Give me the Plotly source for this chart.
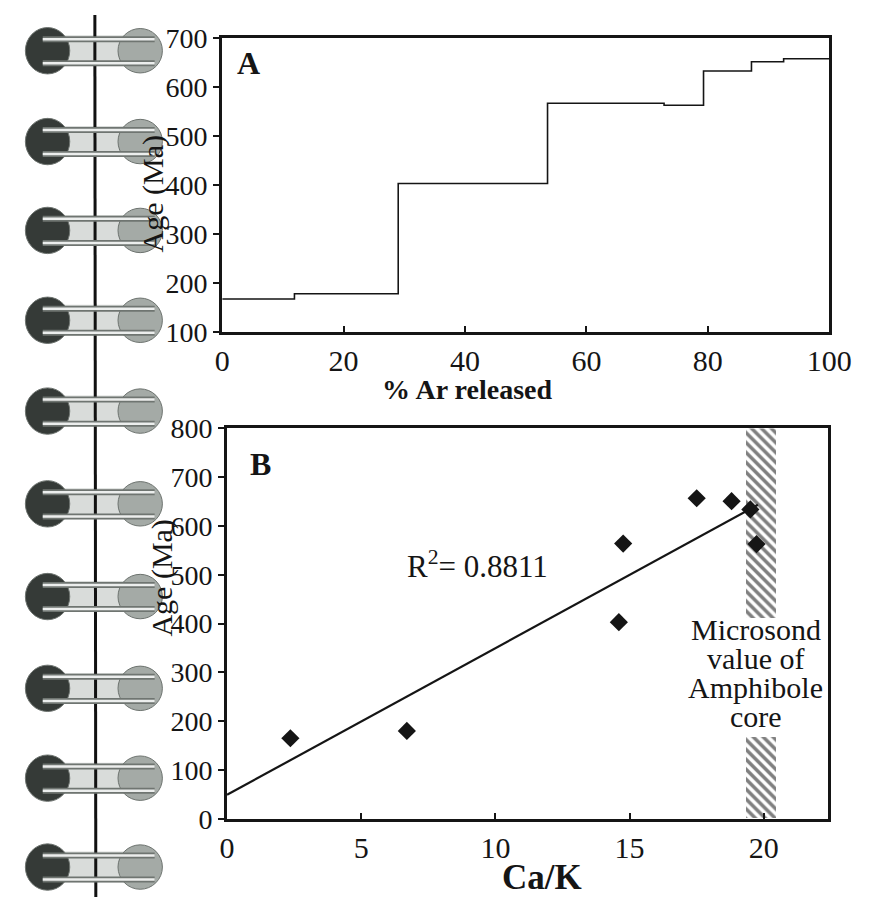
import numpy as np
import plotly.graph_objects as go

# ---------------- data ----------------
# Panel A: step-heating spectrum (cumulative % 39Ar released at step boundaries, apparent age per step)
ar_cum = [0, 11.9, 29.0, 53.6, 72.8, 79.3, 87.2, 92.5, 100]
step_age = [167, 178, 403, 567, 563, 633, 652, 658]

# Panel B: Ca/K versus age for the same steps
ca_k = [2.36, 6.7, 14.6, 14.76, 17.5, 18.8, 19.5, 19.73]
age_b = [165, 180, 403, 564, 657, 651, 634, 563]
r2_label = "R<sup>2</sup>= 0.8811"

# Microprobe Ca/K value of the amphibole core (hatched band)
core_ca_k = 19.9
core_width = 1.1
core_band_base = [0, 411]
core_band_top = [167, 800]
core_text = ["Microsond", "value of", "Amphibole", "core"]

x_ticks_a = [0, 20, 40, 60, 80, 100]
y_ticks_a = [100, 200, 300, 400, 500, 600, 700]
x_ticks_b = [0, 5, 10, 15, 20]
y_ticks_b = [0, 100, 200, 300, 400, 500, 600, 700, 800]

# notebook ring rows (page decoration), y centres in px
ring_rows = [37, 131, 223, 316, 410, 506, 602, 697, 790, 882]

W, H = 884, 913
SERIF = "Liberation Serif"
INK = "#151515"


def X(p):
    return p / W


def Y(p):
    return 1 - p / H


fig = go.Figure()

# Panel A step line
fig.add_trace(go.Scatter(
    x=ar_cum, y=step_age + [step_age[-1]], mode="lines", line_shape="hv",
    line=dict(color=INK, width=1.6), xaxis="x", yaxis="y", showlegend=False,
    hoverinfo="skip"))

# Panel B hatched band
fig.add_trace(go.Bar(
    x=[core_ca_k] * len(core_band_base),
    y=[t - b for t, b in zip(core_band_top, core_band_base)],
    base=core_band_base, width=core_width,
    marker=dict(color="white", line=dict(width=0),
                pattern=dict(shape="\\", fgcolor="#000000", bgcolor="white",
                             size=7, solidity=0.5)),
    xaxis="x2", yaxis="y2", showlegend=False, hoverinfo="skip"))

# regression line from the data
slope, intercept = np.polyfit(ca_k, age_b, 1)
xr = np.array([0, max(ca_k) + 0.05])
fig.add_trace(go.Scatter(
    x=xr, y=slope * xr + intercept, mode="lines",
    line=dict(color=INK, width=2.2), xaxis="x2", yaxis="y2",
    showlegend=False, hoverinfo="skip"))

# Panel B points
fig.add_trace(go.Scatter(
    x=ca_k, y=age_b, mode="markers",
    marker=dict(symbol="diamond", size=14, color=INK),
    xaxis="x2", yaxis="y2", showlegend=False))

axis_common = dict(showline=True, linewidth=3, linecolor=INK, mirror=True,
                   showgrid=False, zeroline=False, ticklen=6, tickwidth=1.5,
                   tickcolor=INK, color=INK)

fig.update_layout(
    width=W, height=H, margin=dict(l=0, r=0, t=0, b=0),
    paper_bgcolor="white", plot_bgcolor="white",
    font=dict(family=SERIF, color=INK),
    barmode="overlay", bargap=0,
    xaxis=dict(domain=[X(222), X(851)], range=[0, 100], tickvals=x_ticks_a,
               ticks="inside", anchor="y", tickfont=dict(size=30, family=SERIF),
               **axis_common),
    yaxis=dict(domain=[Y(328), Y(24)], range=[100, 700], tickvals=y_ticks_a,
               ticks="outside", anchor="x", tickfont=dict(size=28, family=SERIF),
               **axis_common),
    xaxis2=dict(domain=[X(227), X(850)], range=[0, 22.4], tickvals=x_ticks_b,
                ticks="inside", anchor="y2", tickfont=dict(size=30, family=SERIF),
                **axis_common),
    yaxis2=dict(domain=[Y(832), Y(428)], range=[0, 800], tickvals=y_ticks_b,
                ticks="outside", anchor="x2", tickfont=dict(size=28, family=SERIF),
                **axis_common),
)


def note(text, x, y, size, xref="paper", yref="paper", angle=0):
    return dict(text=text, x=x, y=y, xref=xref, yref=yref, showarrow=False,
                xanchor="center", yanchor="middle", textangle=angle,
                font=dict(size=size, family=SERIF, color=INK))


ann = [
    note("<b>A</b>", X(249), Y(50), 32),
    note("<b>B</b>", X(262), Y(465), 32),
    note("<b>% Ar released</b>", X(476), Y(388), 28),
    note("<b>Ca/K</b>", X(553), Y(893), 35),
    note("Age (Ma)", X(150), Y(185), 30, angle=-90),
    note("Age (Ma)", X(160), Y(583), 30, angle=-90),
    note(r2_label, 9.35, 521, 31, xref="x2", yref="y2"),
]
for i, line in enumerate(core_text):
    ann.append(note(line, X(775), Y(636 + 30 * i), 30))

shapes = []
for cy in ring_rows:
    shapes.append(dict(type="rect", xref="paper", yref="paper",
                       x0=X(42), x1=X(140), y0=Y(cy - 16), y1=Y(cy + 16),
                       fillcolor="#d9dcda", line=dict(width=0)))
    shapes.append(dict(type="circle", xref="paper", yref="paper",
                       x0=X(18), x1=X(64), y0=Y(cy - 24), y1=Y(cy + 24),
                       fillcolor="#353a37", line=dict(color="#6d736f", width=1)))
    shapes.append(dict(type="circle", xref="paper", yref="paper",
                       x0=X(114), x1=X(160), y0=Y(cy - 23), y1=Y(cy + 23),
                       fillcolor="#a4aaa6", line=dict(color="#6d736f", width=1)))
# binding line
shapes.append(dict(type="line", xref="paper", yref="paper", x0=X(90), x1=X(91),
                   y0=Y(0), y1=Y(913), line=dict(color="#111111", width=3)))
for cy in ring_rows:
    for dy in (-12, 13):
        shapes.append(dict(type="line", xref="paper", yref="paper",
                           x0=X(36), x1=X(152), y0=Y(cy + dy), y1=Y(cy + dy),
                           line=dict(color="#6f7571", width=6)))
        shapes.append(dict(type="line", xref="paper", yref="paper",
                           x0=X(36), x1=X(152), y0=Y(cy + dy), y1=Y(cy + dy),
                           line=dict(color="#eceeed", width=2.5)))

fig.update_layout(annotations=ann, shapes=shapes)

fig.write_html("out.html",
               post_script="document.body.style.margin='0';"
                           "document.body.style.overflow='hidden';")
